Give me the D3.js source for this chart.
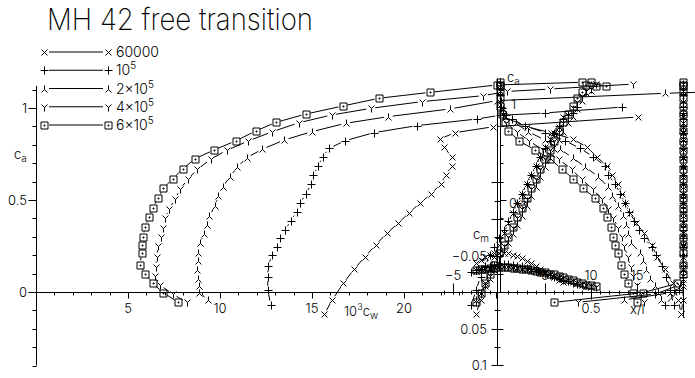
<!DOCTYPE html>
<html>
<head>
<meta charset="utf-8">
<script src="https://cdn.jsdelivr.net/npm/d3@7"></script>
<style>
body { margin: 0; background: #fff; }
text { font-family: "Inter", "DejaVu Sans", sans-serif; font-weight: 300; fill: #000; }
.title { font-weight: 200; }
</style>
</head>
<body>
<div id="chart"></div>
<script>

// ---- data (cd values are 10^3 cw) ----
var reynolds = ["60000", "1e5", "2e5", "4e5", "6e5"];
var markers = ["x", "plus", "tri", "y", "sq"];

var alpha60k = [-2.5,-2,-1.5,-1,-0.5,0,0.5,1,1.5,2,2.5,3,3.5,4,4.5,5,5.5,6,6.5,7];
var cl60k = [-0.121,-0.043,0.047,0.123,0.192,0.255,0.319,0.374,0.431,0.482,0.533,0.587,0.636,0.685,0.736,0.787,0.832,0.866,0.898,0.951];
var cd60k = [15.67,16.10,16.70,17.28,17.88,18.46,19.06,19.69,20.27,20.87,21.47,21.99,22.28,22.59,22.59,22.17,21.96,22.77,24.85,32.7];
var cm60k = [-0.040,-0.044,-0.048,-0.051,-0.053,-0.054,-0.054,-0.053,-0.051,-0.049,-0.046,-0.043,-0.040,-0.036,-0.032,-0.028,-0.024,-0.020,-0.017,-0.014];
var xtrTop60k = [0.99,0.975,0.945,0.90,0.86,0.83,0.79,0.745,0.71,0.685,0.67,0.647,0.612,0.585,0.53,0.48,0.40,0.28,0.15,0.03];
var xtrBot60k = [0.99,1,1,1,1,1,1,1,1,1,1,1,1,1,1,1,1,1,1,1];

var alpha1e5 = [-3,-2.5,-2,-1.5,-1,-0.5,0,0.5,1,1.5,2,2.5,3,3.5,4,4.5,5,5.5,6,6.5,7,7.5,8,8.5];
var cl1e5 = [-0.071,0.010,0.083,0.141,0.201,0.246,0.292,0.337,0.388,0.436,0.482,0.533,0.587,0.636,0.685,0.736,0.781,0.822,0.866,0.904,0.940,0.960,0.973,1.005];
var cd1e5 = [12.76,12.60,12.59,12.63,12.81,13.08,13.26,13.53,13.86,14.17,14.35,14.67,14.95,15.07,15.34,15.58,15.94,16.79,18.37,20.69,23.95,25.2,27.66,31.85];
var cm1e5 = [-0.028,-0.030,-0.032,-0.034,-0.036,-0.037,-0.038,-0.038,-0.038,-0.037,-0.036,-0.035,-0.033,-0.031,-0.029,-0.027,-0.025,-0.023,-0.021,-0.019,-0.017,-0.015,-0.013,-0.011];
var xtrTop1e5 = [0.95,0.93,0.91,0.884,0.855,0.83,0.79,0.763,0.735,0.708,0.685,0.66,0.63,0.594,0.576,0.512,0.44,0.359,0.25,0.14,0.07,0.04,0.02,0.01];
var xtrBot1e5 = [0.90,0.98,1,1,1,1,1,1,1,1,1,1,1,1,1,1,1,1,1,1,1,1,1,1];

var alpha2e5 = [-2.5,-2,-1.5,-1,-0.5,0,0.5,1,1.5,2,2.5,3,3.5,4,4.5,5,5.5,6,6.5,7,7.5,8,8.5,9,9.5,10];
var cl2e5 = [-0.043,-0.004,0.030,0.071,0.120,0.168,0.214,0.265,0.315,0.364,0.413,0.467,0.522,0.569,0.627,0.678,0.730,0.776,0.826,0.871,0.917,0.953,0.995,1.040,1.080,1.090];
var cd2e5 = [9.36,8.88,8.85,8.82,8.77,8.82,8.82,8.91,9.13,9.31,9.42,9.73,9.91,10.14,10.54,10.94,11.45,12.30,13.49,14.98,16.83,19.15,22.5,25.05,34.2,37.5];
var cm2e5 = [-0.029,-0.031,-0.032,-0.033,-0.034,-0.035,-0.035,-0.035,-0.034,-0.033,-0.032,-0.031,-0.030,-0.029,-0.027,-0.026,-0.024,-0.022,-0.020,-0.018,-0.016,-0.014,-0.012,-0.010,-0.008,-0.007];
var xtrTop2e5 = [0.88,0.864,0.85,0.82,0.80,0.78,0.766,0.72,0.703,0.69,0.676,0.648,0.615,0.594,0.54,0.47,0.40,0.332,0.25,0.159,0.09,0.04,0.02,0.01,0.005,0.005];
var xtrBot2e5 = [0.68,0.93,1,1,1,1,1,1,1,1,1,1,1,1,1,1,1,1,1,1,1,1,1,1,1,1];

var alpha4e5 = [-2.5,-2,-1.5,-1,-0.5,0,0.5,1,1.5,2,2.5,3,3.5,4,4.5,5,5.5,6,6.5,7,7.5,8,8.5,9,9.5,10,10.5];
var cl4e5 = [-0.056,-0.011,0.038,0.087,0.135,0.190,0.250,0.300,0.349,0.401,0.451,0.505,0.558,0.612,0.667,0.721,0.770,0.821,0.871,0.920,0.962,0.998,1.035,1.067,1.090,1.103,1.130];
var cd4e5 = [8.19,7.43,6.74,6.47,6.50,6.56,6.63,6.78,6.92,7.01,7.24,7.55,7.83,8.24,8.77,9.49,10.36,11.54,12.84,14.29,16.07,18.19,21.0,24.31,25.6,27.93,32.45];
var cm4e5 = [-0.030,-0.031,-0.032,-0.033,-0.033,-0.034,-0.034,-0.034,-0.033,-0.033,-0.032,-0.031,-0.030,-0.029,-0.028,-0.026,-0.025,-0.023,-0.021,-0.019,-0.017,-0.015,-0.013,-0.011,-0.009,-0.008,-0.007];
var xtrTop4e5 = [0.79,0.77,0.75,0.73,0.715,0.70,0.68,0.667,0.648,0.621,0.594,0.558,0.512,0.449,0.395,0.326,0.241,0.165,0.096,0.04,0.02,0.012,0.008,0.005,0.005,0.004,0.004];
var xtrBot4e5 = [0.43,0.85,0.98,1,1,1,1,1,1,1,1,1,1,1,1,1,1,1,1,1,1,1,1,1,1,1,1];

var alpha6e5 = [-2.5,-2,-1.5,-1,-0.5,0,0.5,1,1.5,2,2.5,3,3.5,4,4.5,5,5.5,6,6.5,7,7.5,8,8.5,9,9.5,10,10.5];
var cl6e5 = [-0.056,-0.004,0.047,0.099,0.148,0.212,0.255,0.300,0.355,0.406,0.458,0.512,0.563,0.616,0.668,0.724,0.772,0.821,0.875,0.922,0.967,1.011,1.053,1.085,1.125,1.140,1.120];
var cd6e5 = [7.73,6.92,6.34,5.94,5.65,5.74,5.78,5.83,5.92,6.14,6.34,6.65,6.92,7.43,7.97,8.64,9.67,10.85,11.94,13.04,14.66,16.68,18.64,21.41,25.04,29.7,31.0];
var cm6e5 = [-0.030,-0.031,-0.032,-0.033,-0.033,-0.034,-0.034,-0.034,-0.033,-0.033,-0.032,-0.031,-0.030,-0.029,-0.028,-0.027,-0.025,-0.024,-0.022,-0.020,-0.018,-0.016,-0.014,-0.012,-0.010,-0.009,-0.008];
var xtrTop6e5 = [0.75,0.73,0.703,0.68,0.665,0.645,0.63,0.62,0.607,0.589,0.564,0.522,0.455,0.404,0.341,0.277,0.196,0.11,0.051,0.03,0.015,0.008,0.005,0.004,0.003,0.003,0.003];
var xtrBot6e5 = [0.30,0.78,0.97,1,1,1,1,1,1,1,1,1,1,1,1,1,1,1,1,1,1,1,1,1,1,1,1];

var legendLabels = [["60000", ""], ["10", "5"], ["2\u00d710", "5"], ["4\u00d710", "5"], ["6\u00d710", "5"]];
var cdTicks = [5, 10, 15, 20];
var clTicks = [0, 0.5, 1];
var alphaTicks = [-5, 5, 10, 15];
var cmTicks = [-0.05, 0.05, 0.1];

var series = [
    {m: "x",    alpha: alpha60k, cl: cl60k, cd: cd60k, cm: cm60k, top: xtrTop60k, bot: xtrBot60k},
    {m: "plus", alpha: alpha1e5, cl: cl1e5, cd: cd1e5, cm: cm1e5, top: xtrTop1e5, bot: xtrBot1e5},
    {m: "tri",  alpha: alpha2e5, cl: cl2e5, cd: cd2e5, cm: cm2e5, top: xtrTop2e5, bot: xtrBot2e5},
    {m: "y",    alpha: alpha4e5, cl: cl4e5, cd: cd4e5, cm: cm4e5, top: xtrTop4e5, bot: xtrBot4e5},
    {m: "sq",   alpha: alpha6e5, cl: cl6e5, cd: cd6e5, cm: cm6e5, top: xtrTop6e5, bot: xtrBot6e5}
];

var width = 695, height = 378;

var svg = d3.select("#chart").append("svg")
    .attr("width", width)
    .attr("height", height);

// scales: all panels share the same paper scale
var xCd = d3.scaleLinear().domain([0, 25]).range([36, 496]);
var yCl = d3.scaleLinear().domain([0, 1]).range([292, 108]);
var xAlpha = d3.scaleLinear().domain([0, 10]).range([499, 591]);
var yCm = d3.scaleLinear().domain([0, 0.1]).range([292, 365]);
var xXtr = d3.scaleLinear().domain([0, 1]).range([499, 683]);

var ink = svg.append("g").attr("fill", "none").attr("stroke", "#000").attr("stroke-width", 1);

function markerPath(type, x, y) {
    x = Math.round(x) + 0.5; y = Math.round(y) + 0.5;
    var p = d3.path();
    if (type == "x") {
        p.moveTo(x - 3, y - 3); p.lineTo(x + 3, y + 3);
        p.moveTo(x - 3, y + 3); p.lineTo(x + 3, y - 3);
    } else if (type == "plus") {
        p.moveTo(x - 4, y); p.lineTo(x + 4, y);
        p.moveTo(x, y - 4); p.lineTo(x, y + 4);
    } else if (type == "tri") {
        p.moveTo(x, y - 4); p.lineTo(x, y);
        p.lineTo(x - 3, y + 3);
        p.moveTo(x, y); p.lineTo(x + 3, y + 3);
    } else if (type == "y") {
        p.moveTo(x - 3, y - 3); p.lineTo(x, y);
        p.lineTo(x + 3, y - 3);
        p.moveTo(x, y); p.lineTo(x, y + 4);
    } else {
        p.rect(x - 3.5, y - 3.5, 7, 7);
        p.rect(x - 0.5, y - 0.5, 1, 1);
    }
    return p.toString();
}

// line broken around each marker, as on the plotter
function brokenLine(pts, gap) {
    var p = d3.path();
    for (var i = 1; i < pts.length; i++) {
        var a = pts[i - 1], b = pts[i];
        var dx = b[0] - a[0], dy = b[1] - a[1];
        var d = Math.sqrt(dx * dx + dy * dy);
        if (d <= 2 * gap + 1) continue;
        var ux = dx / d, uy = dy / d;
        p.moveTo(a[0] + ux * gap, a[1] + uy * gap);
        p.lineTo(b[0] - ux * gap, b[1] - uy * gap);
    }
    return p.toString();
}

function drawCurve(pts, type) {
    ink.append("path").attr("d", brokenLine(pts, 4.5));
    ink.append("path").attr("d", pts.map(function(q) { return markerPath(type, q[0], q[1]); }).join(""));
}

series.forEach(function(s) {
    var polar = s.cl.map(function(c, i) { return [xCd(s.cd[i]), yCl(c)]; });
    var lift = s.cl.map(function(c, i) { return [xAlpha(s.alpha[i]), yCl(c)]; });
    var mom = s.cm.map(function(c, i) { return [xAlpha(s.alpha[i]), yCm(c)]; });
    var top = s.top.map(function(t, i) { return [xXtr(t), yCl(s.cl[i])]; });
    var bot = s.bot.map(function(t, i) { return [xXtr(t), yCl(s.cl[i])]; });
    drawCurve(polar, s.m);
    drawCurve(lift, s.m);
    drawCurve(mom, s.m);
    drawCurve(top, s.m);
    drawCurve(bot, s.m);
});

// ---- axes ----
var axes = svg.append("g").attr("stroke", "#000").attr("stroke-width", 1).attr("fill", "none");

function vline(x, y1, y2) {
    axes.append("line").attr("x1", x).attr("x2", x).attr("y1", y1).attr("y2", y2);
}
function hline(y, x1, x2) {
    axes.append("line").attr("x1", x1).attr("x2", x2).attr("y1", y).attr("y2", y);
}

// left cl axis
vline(36.5, yCl(1.12), yCl(-0.4));
d3.range(-4, 12).forEach(function(k) {
    var v = k / 10, y = Math.round(yCl(v)) + 0.5;
    var len = (k % 5 == 0) ? 8 : 4;
    hline(y, 36.5 - len, 36.5);
});

// common horizontal axis at cl = 0
hline(292.5, 36, 683);
d3.range(1, 26).forEach(function(k) {
    var x = Math.round(xCd(k)) + 0.5;
    axes.append("line").attr("x1", x).attr("x2", x).attr("y1", 292.5).attr("y2", 292.5 + (k % 5 == 0 ? 6 : 3));
});
d3.range(-6, 20).forEach(function(k) {
    if (k == 0) return;
    var x = Math.round(xAlpha(k)) + 0.5;
    var up = (k % 5 == 0) ? 9 : 2;
    axes.append("line").attr("x1", x).attr("x2", x).attr("y1", 292.5 - up).attr("y2", 294.5);
});
[0.5, 1].forEach(function(v) {
    var x = Math.round(xXtr(v)) + 0.5;
    axes.append("line").attr("x1", x).attr("x2", x).attr("y1", 292.5).attr("y2", 299.5);
});

// cm axis and cl(alpha) axis
vline(497.5, yCl(1.16), yCm(0.1));
vline(500.5, yCl(1.16), yCl(0));
d3.range(1, 12).forEach(function(k) {
    var y = Math.round(yCl(k / 10)) + 0.5;
    hline(y, 500.5, 500.5 + (k % 5 == 0 ? 6 : 3));
});
d3.range(-6, 5).forEach(function(k) {
    if (k == 0) return;
    var y = Math.round(yCm(k * 0.025)) + 0.5;
    var len = (k % 2 == 0) ? 6 : 3;
    hline(y, 497.5 - len, 497.5 + len);
});

// transition axis at x/c = 1
vline(683.5, yCl(1.15), yCl(-0.14));

// ---- text ----
var txt = svg.append("g").style("font-size", "13px");

svg.append("text").attr("class", "title")
    .attr("x", 47).attr("y", 30)
    .attr("textLength", 266).attr("lengthAdjust", "spacingAndGlyphs")
    .style("font-size", "30px")
    .text("MH 42 free transition");

clTicks.forEach(function(v) {
    txt.append("text").attr("x", 27).attr("y", yCl(v) + 5)
        .attr("text-anchor", "end").text(d3.format("")(v));
});
cdTicks.forEach(function(v) {
    txt.append("text").attr("x", xCd(v)).attr("y", 313)
        .attr("text-anchor", "middle").text(v);
});
alphaTicks.forEach(function(v) {
    txt.append("text").attr("x", xAlpha(v)).attr("y", 280)
        .attr("text-anchor", "middle").text(v < 0 ? "\u2212" + (-v) : v);
});
cmTicks.forEach(function(v) {
    txt.append("text").attr("x", 487).attr("y", yCm(v) + 5)
        .attr("text-anchor", "end").text(v < 0 ? "\u2212" + d3.format("")(-v) : d3.format("")(v));
});
txt.append("text").attr("x", 511).attr("y", yCl(1) + 1).text("1");
txt.append("text").attr("x", 509).attr("y", yCl(0.5) + 8).text("0.5");
txt.append("text").attr("x", xXtr(0.5)).attr("y", 313).attr("text-anchor", "middle").text("0.5");
txt.append("text").attr("x", 630).attr("y", 314).text("x/l");

function subLabel(x, y, main, sub) {
    var t = txt.append("text").attr("x", x).attr("y", y);
    t.append("tspan").text(main);
    t.append("tspan").attr("dy", 3).style("font-size", "10px").text(sub);
}
subLabel(14, 159, "c", "a");
subLabel(507, 82, "c", "a");
subLabel(473, 239, "c", "m");

var cw = txt.append("text").attr("x", 344).attr("y", 316);
cw.append("tspan").text("10");
cw.append("tspan").attr("dy", -6).style("font-size", "9px").text("3");
cw.append("tspan").attr("dy", 6).text("c");
cw.append("tspan").attr("dy", 3).style("font-size", "10px").text("w");

// ---- legend ----
var legendY = d3.scaleLinear().domain([0, 4]).range([52, 125]);
markers.forEach(function(m, i) {
    var y = legendY(i);
    ink.append("path").attr("d", brokenLine([[44, y], [108, y]], 5));
    ink.append("path").attr("d", markerPath(m, 44, y) + markerPath(m, 108, y));
    var t = txt.append("text").attr("x", 116).attr("y", y + 5).style("font-size", "14px");
    t.append("tspan").text(legendLabels[i][0]);
    if (legendLabels[i][1]) {
        t.append("tspan").attr("dy", -6).style("font-size", "10px").text(legendLabels[i][1]);
    }
});

</script>
</body>
</html>
